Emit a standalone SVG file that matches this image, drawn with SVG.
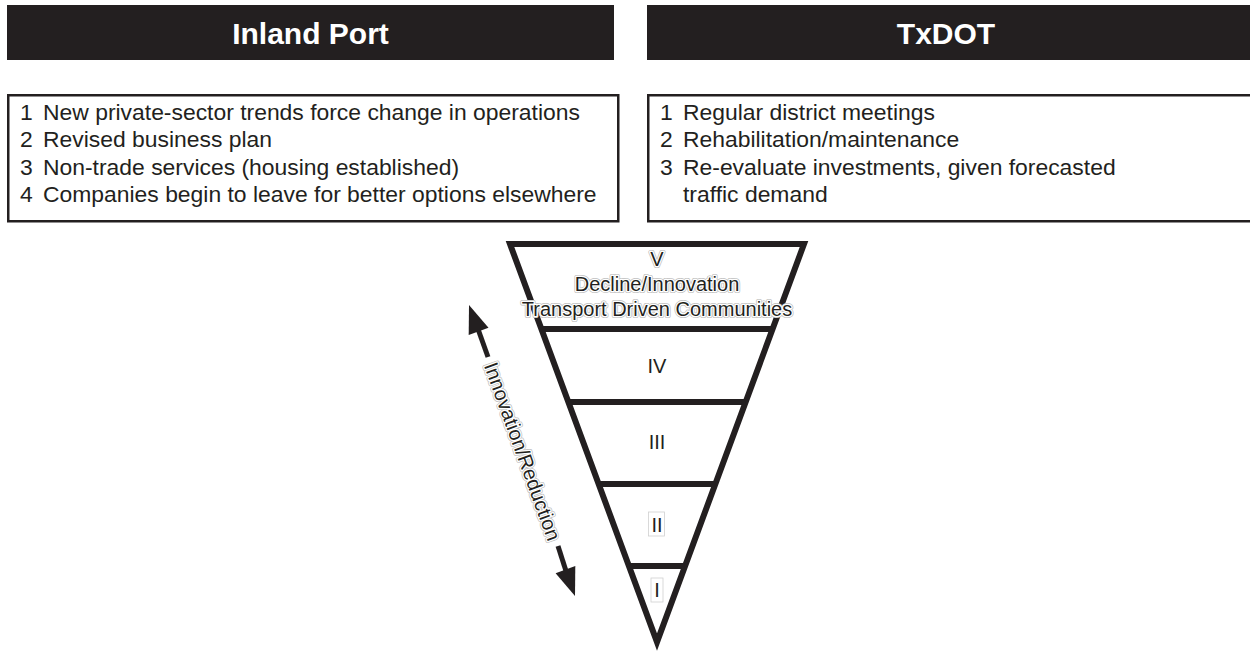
<svg xmlns="http://www.w3.org/2000/svg" width="1250" height="651" viewBox="0 0 1250 651">
  <defs>
    <style>
      .hdr { fill: #231f20; }
      .hdrtxt { font-family: "Liberation Sans", Arial, sans-serif; font-weight: bold; font-size: 30px; fill: #ffffff; text-anchor: middle; }
      .box { fill: #ffffff; stroke: #231f20; stroke-width: 2.5; }
      .item { font-family: "Liberation Sans", Arial, sans-serif; font-size: 22.9px; fill: #231f20; }
      .tri { fill: #ffffff; stroke: #231f20; stroke-width: 6; stroke-linejoin: miter; stroke-miterlimit: 10; }
      .band { stroke: #231f20; stroke-width: 6; }
      .lbl { font-family: "Liberation Sans", Arial, sans-serif; font-size: 20px; fill: #231f20; text-anchor: middle; }
      .halo { stroke: #bdbdbd; stroke-width: 4; stroke-linejoin: round; fill: #bdbdbd; }
      .halo2 { stroke: #ffffff; stroke-width: 2.6; stroke-linejoin: round; paint-order: stroke; }
      .arrow { stroke: #231f20; stroke-width: 5; fill: none; }
      .head { fill: #231f20; }
    </style>
  </defs>

  <g id="inland-port-header">
    <rect class="hdr" x="7" y="5" width="607" height="55"/>
    <text class="hdrtxt" x="310.5" y="43.5">Inland Port</text>
  </g>

  <g id="txdot-header">
    <rect class="hdr" x="647" y="5" width="603" height="55"/>
    <text class="hdrtxt" x="946" y="43.5">TxDOT</text>
  </g>

  <g id="inland-port-list">
    <rect class="box" x="8.25" y="95.25" width="610" height="126"/>
    <text class="item" x="20" y="120">1</text>
    <text class="item" x="43" y="120">New private-sector trends force change in operations</text>
    <text class="item" x="20" y="147.3">2</text>
    <text class="item" x="43" y="147.3">Revised business plan</text>
    <text class="item" x="20" y="174.6">3</text>
    <text class="item" x="43" y="174.6">Non-trade services (housing established)</text>
    <text class="item" x="20" y="202">4</text>
    <text class="item" x="43" y="202">Companies begin to leave for better options elsewhere</text>
  </g>

  <g id="txdot-list">
    <rect class="box" x="648.25" y="95.25" width="610" height="126"/>
    <text class="item" x="660" y="120">1</text>
    <text class="item" x="683" y="120">Regular district meetings</text>
    <text class="item" x="660" y="147.3">2</text>
    <text class="item" x="683" y="147.3">Rehabilitation/maintenance</text>
    <text class="item" x="660" y="174.6">3</text>
    <text class="item" x="683" y="174.6">Re-evaluate investments, given forecasted</text>
    <text class="item" x="683" y="202">traffic demand</text>
  </g>

  <g id="pyramid">
    <polygon class="tri" points="510,244 804,244 657,642"/>
    <line class="band" x1="541.4" y1="329" x2="772.6" y2="329"/>
    <line class="band" x1="568.3" y1="402" x2="745.7" y2="402"/>
    <line class="band" x1="598.6" y1="484" x2="715.4" y2="484"/>
    <line class="band" x1="629.3" y1="566" x2="684.7" y2="566"/>
  </g>

  <g id="level-V">
    <g class="lbl halo">
      <text x="657" y="266">V</text>
      <text x="657" y="291">Decline/Innovation</text>
      <text x="657" y="316">Transport Driven Communities</text>
    </g>
    <g class="lbl halo2">
      <text x="657" y="266">V</text>
      <text x="657" y="291">Decline/Innovation</text>
      <text x="657" y="316">Transport Driven Communities</text>
    </g>
  </g>

  <g id="level-IV">
    <text class="lbl" x="657" y="373">IV</text>
  </g>

  <g id="level-III">
    <text class="lbl" x="657" y="449">III</text>
  </g>

  <g id="level-II">
    <rect x="648.5" y="512" width="16" height="24" fill="#ffffff" stroke="#d0d0d0" stroke-width="0.8"/>
    <text class="lbl" x="657" y="532">II</text>
  </g>

  <g id="level-I">
    <rect x="651" y="578" width="12" height="24" fill="#ffffff" stroke="#d0d0d0" stroke-width="0.8"/>
    <text class="lbl" x="657" y="597">I</text>
  </g>

  <g id="connectors">
    <line class="arrow" x1="478" y1="329" x2="488" y2="357"/>
    <line class="arrow" x1="558" y1="546" x2="566" y2="571"/>
    <polygon class="head" points="469,305 488.5,327.7 468.7,334.9"/>
    <polygon class="head" points="575,596 575.3,566.1 555.6,573.3"/>
    <g transform="translate(522.5,451.5) rotate(70)">
      <text class="lbl halo" x="0" y="7">Innovation/Reduction</text>
      <text class="lbl halo2" x="0" y="7">Innovation/Reduction</text>
    </g>
  </g>
</svg>
